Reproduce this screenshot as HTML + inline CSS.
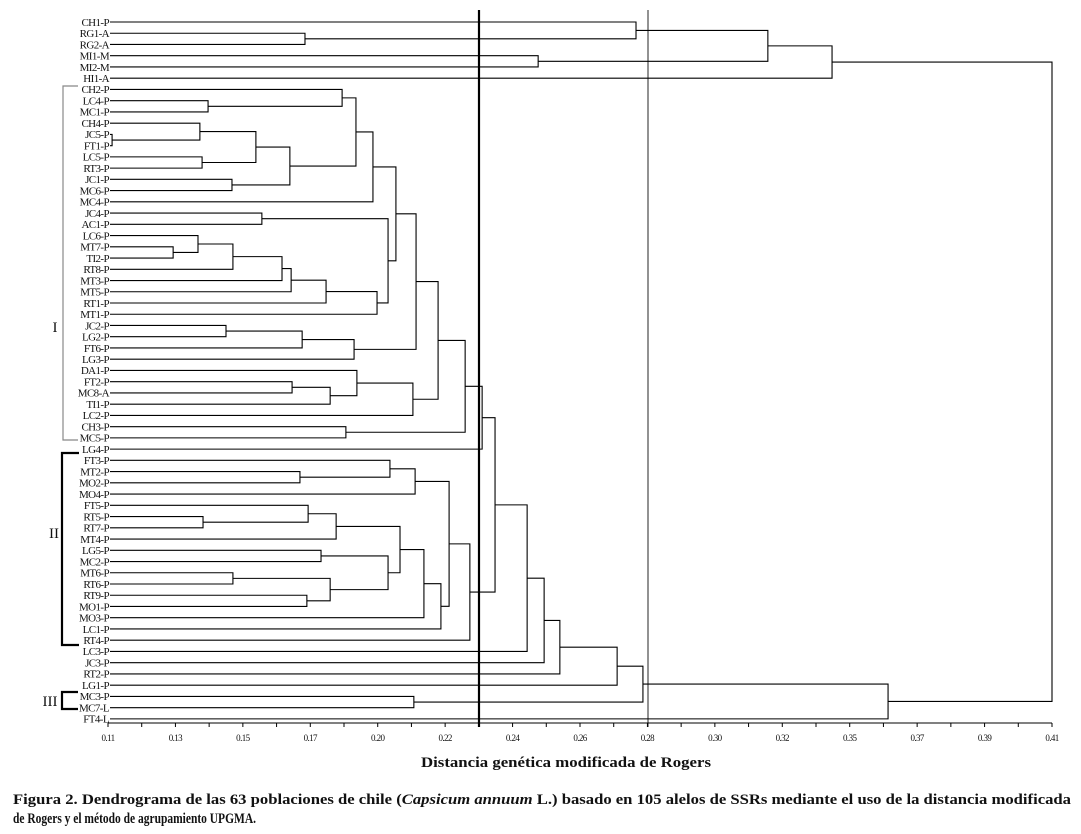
<!DOCTYPE html>
<html><head><meta charset="utf-8"><style>
html,body{margin:0;padding:0;background:#fff;}
svg{display:block;}
text{font-family:"Liberation Serif",serif;fill:#111;}
</style></head><body>
<svg id="chart" width="1081" height="834" viewBox="0 0 1081 834" xmlns="http://www.w3.org/2000/svg">
<g id="ref-lines">
<line x1="479" y1="10" x2="479" y2="727" stroke="#000" stroke-width="2.2"/>
<line x1="648" y1="10" x2="648" y2="727" stroke="#777" stroke-width="1.6"/>
</g>
<g id="tree" stroke="#000" stroke-width="1.1" fill="none"></g>
<g id="labels"></g>
<g id="axis"></g>
<g>
<polyline points="78,86 63,86 63,440 78,440" fill="none" stroke="#888" stroke-width="1.2"/>
<text x="55" y="332" font-size="15" text-anchor="middle">I</text>
<polyline points="79,453 62,453 62,645 79,645" fill="none" stroke="#000" stroke-width="2.2"/>
<text x="54" y="538" font-size="15" text-anchor="middle">II</text>
<polyline points="78,692 62,692 62,709 78,709" fill="none" stroke="#000" stroke-width="2.2"/>
<text x="50" y="706" font-size="15" text-anchor="middle">III</text>
</g>
<text x="421" y="767" font-size="15" font-weight="bold" textLength="290" lengthAdjust="spacingAndGlyphs">Distancia genética modificada de Rogers</text>
<text x="13" y="804" font-size="14.5" font-weight="bold" textLength="1058" lengthAdjust="spacingAndGlyphs">Figura 2. Dendrograma de las 63 poblaciones de chile (<tspan font-style="italic">Capsicum annuum</tspan> L.) basado en 105 alelos de SSRs mediante el uso de la distancia modificada</text>
<text x="13" y="823" font-size="14.5" font-weight="bold" textLength="243" lengthAdjust="spacingAndGlyphs">de Rogers y el método de agrupamiento UPGMA.</text>
</svg>
<script>
const leaves = ["CH1-P","RG1-A","RG2-A","MI1-M","MI2-M","HI1-A","CH2-P","LC4-P","MC1-P","CH4-P","JC5-P","FT1-P","LC5-P","RT3-P","JC1-P","MC6-P","MC4-P","JC4-P","AC1-P","LC6-P","MT7-P","TI2-P","RT8-P","MT3-P","MT5-P","RT1-P","MT1-P","JC2-P","LG2-P","FT6-P","LG3-P","DA1-P","FT2-P","MC8-A","TI1-P","LC2-P","CH3-P","MC5-P","LG4-P","FT3-P","MT2-P","MO2-P","MO4-P","FT5-P","RT5-P","RT7-P","MT4-P","LG5-P","MC2-P","MT6-P","RT6-P","RT9-P","MO1-P","MO3-P","LC1-P","RT4-P","LC3-P","JC3-P","RT2-P","LG1-P","MC3-P","MC7-L","FT4-L"];
const mergeLeft = ["RG1-A","CH1-P","MI1-M","#1","#3","LC4-P","CH2-P","JC5-P","CH4-P","LC5-P","#8","JC1-P","#10","#6","#13","JC4-P","MT7-P","LC6-P","#17","#18","#19","#20","#21","#15","#14","JC2-P","#25","#26","#24","FT2-P","#29","DA1-P","#31","#28","CH3-P","#33","#35","MT2-P","FT3-P","#38","RT5-P","FT5-P","#41","LG5-P","MT6-P","RT9-P","#44","#43","#42","#48","#49","#39","#51","#36","#53","#54","#55","#56","MC3-P","#57","#59","#4"];
const mergeRight = ["RG2-A","#0","MI2-M","#2","HI1-A","MC1-P","#5","FT1-P","#7","RT3-P","#9","MC6-P","#11","#12","MC4-P","AC1-P","TI2-P","#16","RT8-P","MT3-P","MT5-P","RT1-P","MT1-P","#22","#23","LG2-P","FT6-P","LG3-P","#27","MC8-A","TI1-P","#30","LC2-P","#32","MC5-P","#34","LG4-P","MO2-P","#37","MO4-P","RT7-P","#40","MT4-P","MC2-P","RT6-P","MO1-P","#45","#46","#47","MO3-P","LC1-P","#50","RT4-P","#52","LC3-P","JC3-P","RT2-P","LG1-P","MC7-L","#58","FT4-L","#60"];
const mergeHeight = [0.1726,0.2778,0.2467,0.3197,0.3401,0.1418,0.1844,0.1113,0.1392,0.1399,0.1570,0.1494,0.1678,0.1888,0.1942,0.1589,0.1307,0.1386,0.1497,0.1653,0.1682,0.1793,0.1955,0.1990,0.2015,0.1475,0.1717,0.1882,0.2079,0.1685,0.1806,0.1891,0.2069,0.2149,0.1856,0.2235,0.2289,0.1710,0.1996,0.2076,0.1402,0.1736,0.1825,0.1777,0.1497,0.1732,0.1806,0.1990,0.2028,0.2104,0.2158,0.2184,0.2250,0.2330,0.2432,0.2486,0.2536,0.2718,0.2072,0.2800,0.3579,0.4100];
const tickLabels = ["0.11","0.13","0.15","0.17","0.20","0.22","0.24","0.26","0.28","0.30","0.32","0.35","0.37","0.39","0.41"];
const axisMin = 0.11, axisMax = 0.41;

const NS = "http://www.w3.org/2000/svg";
const X0 = 108, X1 = 1052, LEAF_X = 110, Y0 = 22, DY = 11.24;
function xScale(d){ return X0 + (d - axisMin) / (axisMax - axisMin) * (X1 - X0); }
function yLeaf(i){ return Y0 + i * DY; }
function mk(tag, attrs, parent){ const e = document.createElementNS(NS, tag); for (const k in attrs) e.setAttribute(k, attrs[k]); parent.appendChild(e); return e; }

const tree = document.getElementById('tree');
const labels = document.getElementById('labels');
const pos = {};
leaves.forEach((n, i) => {
  pos[n] = {x: LEAF_X, y: yLeaf(i)};
  const t = mk('text', {x: LEAF_X - 1, y: yLeaf(i) + 3.8, 'font-size': 11, 'text-anchor': 'end', 'letter-spacing': '-0.6'}, labels);
  
  
  t.textContent = n;
});
function getPos(ref){ return ref[0] === '#' ? pos['node' + ref.slice(1)] : pos[ref]; }
for (let k = 0; k < mergeHeight.length; k++) {
  const a = getPos(mergeLeft[k]), b = getPos(mergeRight[k]);
  const x = xScale(mergeHeight[k]);
  const p = mk('path', {d: `M${a.x},${a.y}H${x}V${b.y}H${b.x}`}, tree);
  
  
  pos['node' + k] = {x: x, y: (a.y + b.y) / 2};
}

const axis = document.getElementById('axis');
const al = mk('line', {x1: X0, y1: 723, x2: X1, y2: 723, stroke: '#000', 'stroke-width': 1.1}, axis);


const n = tickLabels.length - 1;
for (let i = 0; i <= 2 * n; i++) {
  const x = X0 + i * (X1 - X0) / (2 * n);
  const tk = mk('line', {x1: x, y1: 723, x2: x, y2: 727, stroke: '#000', 'stroke-width': 1}, axis);
  
  
}
tickLabels.forEach((lab, i) => {
  const x = X0 + i * (X1 - X0) / n;
  const t = mk('text', {x: x, y: 741, 'font-size': 9, 'text-anchor': 'middle', 'letter-spacing': '-0.6'}, axis);
  
  
  t.textContent = lab;
});
</script>
</body></html>
